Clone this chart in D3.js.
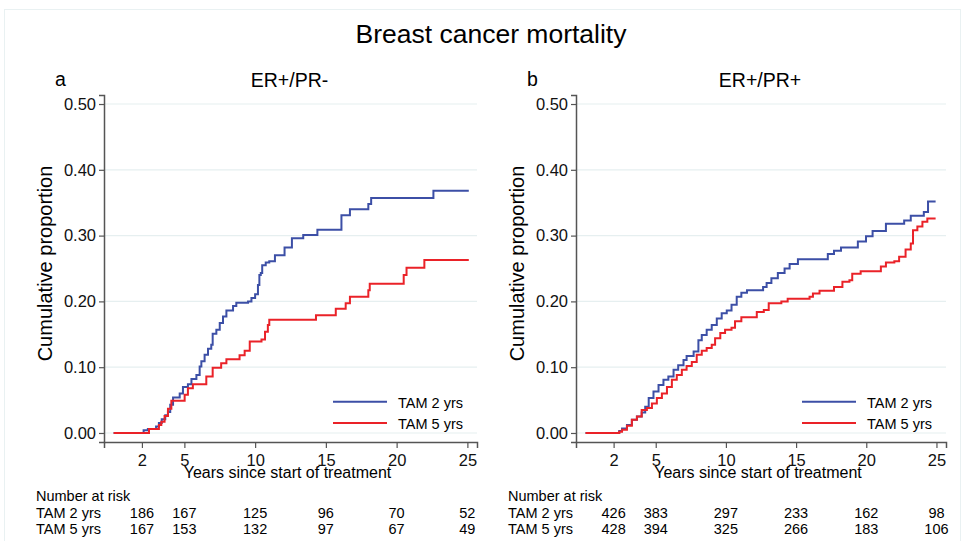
<!DOCTYPE html>
<html>
<head>
<meta charset="utf-8">
<script src="https://cdn.jsdelivr.net/npm/d3@7"></script>
<style>
  body { margin: 0; background: #fff; }
  svg { font-family: "Liberation Sans", Arial, sans-serif; }
</style>
</head>
<body>
<div class="chart"></div>
<script>
var svgWidth = 965;
var svgHeight = 541;

// data: [years, cumulative proportion]
var panelLabels = ["a", "b"];
var panelTitles = ["ER+/PR-", "ER+/PR+"];
var seriesNames = ["TAM 2 yrs", "TAM 5 yrs"];
var riskTimes = [2, 5, 10, 15, 20, 25];
var xTicks = [2, 5, 10, 15, 20, 25];
var yTicks = [0, 0.1, 0.2, 0.3, 0.4, 0.5];

var prNegTam2 = [[0,0],[2.12,0.004],[2.42,0.006],[3.0,0.010],[3.2,0.015],[3.4,0.021],[3.65,0.027],[3.84,0.032],[4.0,0.043],[4.2,0.054],[4.67,0.060],[4.9,0.070],[5.25,0.074],[5.5,0.082],[5.85,0.088],[6.08,0.101],[6.2,0.109],[6.43,0.119],[6.67,0.128],[6.9,0.134],[7.0,0.151],[7.26,0.157],[7.5,0.167],[7.73,0.177],[7.97,0.186],[8.44,0.193],[8.67,0.198],[9.5,0.200],[9.74,0.205],[10.0,0.211],[10.2,0.225],[10.3,0.240],[10.4,0.243],[10.5,0.255],[10.75,0.259],[11.0,0.261],[11.4,0.270],[12.08,0.282],[12.6,0.296],[13.4,0.301],[14.4,0.309],[16.1,0.331],[16.7,0.340],[18.0,0.348],[18.2,0.357],[22.6,0.368],[25.1,0.368]];
var prNegTam5 = [[0,0],[2.5,0.006],[3.2,0.012],[3.37,0.017],[3.6,0.026],[3.84,0.037],[4.08,0.049],[5.02,0.058],[5.25,0.068],[5.6,0.074],[6.55,0.086],[7.0,0.099],[7.6,0.106],[7.97,0.112],[8.9,0.118],[9.26,0.125],[9.62,0.139],[10.45,0.142],[10.7,0.154],[10.9,0.164],[11.0,0.172],[14.3,0.179],[15.7,0.189],[16.4,0.197],[16.7,0.207],[18.0,0.217],[18.1,0.227],[20.5,0.240],[20.7,0.251],[21.96,0.263],[25.1,0.263]];
var prPosTam2 = [[0,0],[2.4,0.003],[2.6,0.007],[2.95,0.012],[3.3,0.020],[3.66,0.025],[4.0,0.031],[4.25,0.040],[4.5,0.053],[4.84,0.063],[5.2,0.073],[5.55,0.081],[5.9,0.086],[6.27,0.096],[6.6,0.103],[6.98,0.111],[7.2,0.117],[7.7,0.124],[8.04,0.141],[8.28,0.149],[8.63,0.157],[8.99,0.164],[9.35,0.174],[9.7,0.182],[10.06,0.186],[10.4,0.195],[10.77,0.207],[11.1,0.213],[11.5,0.217],[12.65,0.222],[12.9,0.228],[13.24,0.235],[13.7,0.243],[14.18,0.250],[14.54,0.257],[15.13,0.264],[17.26,0.272],[17.7,0.277],[18.2,0.282],[19.4,0.291],[19.98,0.299],[20.45,0.307],[21.4,0.318],[22.7,0.323],[23.17,0.330],[24.1,0.336],[24.4,0.352],[24.94,0.352]];
var prPosTam5 = [[0,0],[2.4,0.002],[2.6,0.005],[2.95,0.011],[3.3,0.020],[3.66,0.025],[4.0,0.035],[4.37,0.038],[4.73,0.045],[5.08,0.053],[5.44,0.060],[5.8,0.070],[6.15,0.081],[6.5,0.088],[6.86,0.096],[7.2,0.102],[7.57,0.108],[7.92,0.119],[8.28,0.125],[8.63,0.129],[8.99,0.134],[9.23,0.144],[9.6,0.152],[9.94,0.157],[10.4,0.160],[10.65,0.170],[11.1,0.176],[12.2,0.184],[12.7,0.187],[13.05,0.197],[13.95,0.200],[14.4,0.204],[15.96,0.207],[16.2,0.212],[16.67,0.216],[17.7,0.222],[18.3,0.230],[18.8,0.232],[19.0,0.242],[19.6,0.246],[21.04,0.253],[21.4,0.259],[22.0,0.261],[22.34,0.268],[22.8,0.279],[23.17,0.288],[23.33,0.308],[23.64,0.314],[24.0,0.321],[24.35,0.326],[24.94,0.326]];

var prNegRisk2 = [186, 167, 125, 96, 70, 52];
var prNegRisk5 = [167, 153, 132, 97, 67, 49];
var prPosRisk2 = [426, 383, 297, 233, 162, 98];
var prPosRisk5 = [428, 394, 325, 266, 183, 106];

var colors = ["#3c4fa6", "#ea2228"];

var svg = d3
  .select(".chart")
  .append("svg")
  .attr("width", svgWidth)
  .attr("height", svgHeight);

// faint outer frame
svg.append("rect")
  .attr("x", 4.5).attr("y", 9.5)
  .attr("width", 956).attr("height", 540)
  .attr("fill", "none")
  .attr("stroke", "#e9f1f2");

svg.append("text")
  .attr("x", 491)
  .attr("y", 43)
  .style("text-anchor", "middle")
  .style("font-size", "26.5px")
  .text("Breast cancer mortality");

function drawPanel(i, left, width, curves, risks) {
  var top = 95;
  var height = 347;

  let xScale = d3.scaleLinear().domain([-0.68, 25.68]).range([0, width]);
  let yScale = d3.scaleLinear().domain([-0.0137, 0.5137]).range([height, 0]);

  var g = svg.append("g").attr("transform", `translate(${left}, ${top})`);

  // gridlines
  g.selectAll(".grid")
    .data(yTicks)
    .enter()
    .append("line")
    .attr("x1", 0)
    .attr("x2", width)
    .attr("y1", (d) => yScale(d))
    .attr("y2", (d) => yScale(d))
    .attr("stroke", "#e6eff0")
    .attr("stroke-width", 1.2);

  // axes
  let leftAxis = d3.axisLeft(yScale).tickValues(yTicks).tickFormat(d3.format(".2f")).tickSize(5).tickPadding(3);
  let bottomAxis = d3.axisBottom(xScale).tickValues(xTicks).tickSize(6).tickPadding(4);

  let yAxis = g.append("g").call(leftAxis);
  let xAxis = g.append("g").attr("transform", `translate(0,${height})`).call(bottomAxis);

  [yAxis, xAxis].forEach((ax) => {
    ax.select(".domain").attr("stroke", "#555").attr("stroke-width", 1.5);
    ax.selectAll(".tick line").attr("stroke", "#555").attr("stroke-width", 1.2);
    ax.selectAll("text").attr("fill", "#111").style("font-size", "16.5px").style("font-family", "Liberation Sans, Arial, sans-serif");
  });
  xAxis.selectAll("text").attr("dy", "0.85em");

  // step curves
  let line = d3.line()
    .curve(d3.curveStepAfter)
    .x((d) => xScale(d[0]))
    .y((d) => yScale(d[1]));

  curves.forEach((c, k) => {
    g.append("path")
      .datum(c)
      .attr("fill", "none")
      .attr("stroke", colors[k])
      .attr("stroke-width", 2)
      .attr("d", line);
  });

  // legend
  seriesNames.forEach((name, k) => {
    let ly = 306.7 + k * 21.3;
    g.append("line")
      .attr("x1", width - 144).attr("x2", width - 90)
      .attr("y1", ly).attr("y2", ly)
      .attr("stroke", colors[k])
      .attr("stroke-width", 2);
    g.append("text")
      .attr("x", width - 79)
      .attr("y", ly + 6)
      .style("font-size", "14.5px")
      .text(name);
  });

  // panel headings
  svg.append("text")
    .attr("x", left - 49)
    .attr("y", 86)
    .style("font-size", "19.5px")
    .text(panelLabels[i]);
  svg.append("text")
    .attr("x", left + width / 2 - 1)
    .attr("y", 86.5)
    .style("text-anchor", "middle")
    .style("font-size", "19.5px")
    .text(panelTitles[i]);

  // axis titles
  svg.append("text")
    .attr("transform", `translate(${left - 52}, ${top + height / 2 - 5}) rotate(-90)`)
    .style("text-anchor", "middle")
    .style("font-size", "20px")
    .text("Cumulative proportion");
  svg.append("text")
    .attr("x", left + width / 2 - 3)
    .attr("y", 478)
    .style("text-anchor", "middle")
    .style("font-size", "16px")
    .text("Years since start of treatment");

  // number at risk table
  svg.append("text")
    .attr("x", left - 68)
    .attr("y", 501)
    .style("font-size", "14.5px")
    .text("Number at risk");
  risks.forEach((row, k) => {
    let ry = 518 + k * 16;
    svg.append("text")
      .attr("x", left - 68)
      .attr("y", ry)
      .style("font-size", "14.5px")
      .text(seriesNames[k]);
    svg.selectAll(null)
      .data(row)
      .enter()
      .append("text")
      .attr("x", (d, j) => left + xScale(riskTimes[j]))
      .attr("y", ry)
      .style("text-anchor", "middle")
      .style("font-size", "14.5px")
      .text((d) => d);
  });
}

drawPanel(0, 104, 373, [prNegTam2, prNegTam5], [prNegRisk2, prNegRisk5]);
drawPanel(1, 576, 370, [prPosTam2, prPosTam5], [prPosRisk2, prPosRisk5]);
</script>
</body>
</html>
